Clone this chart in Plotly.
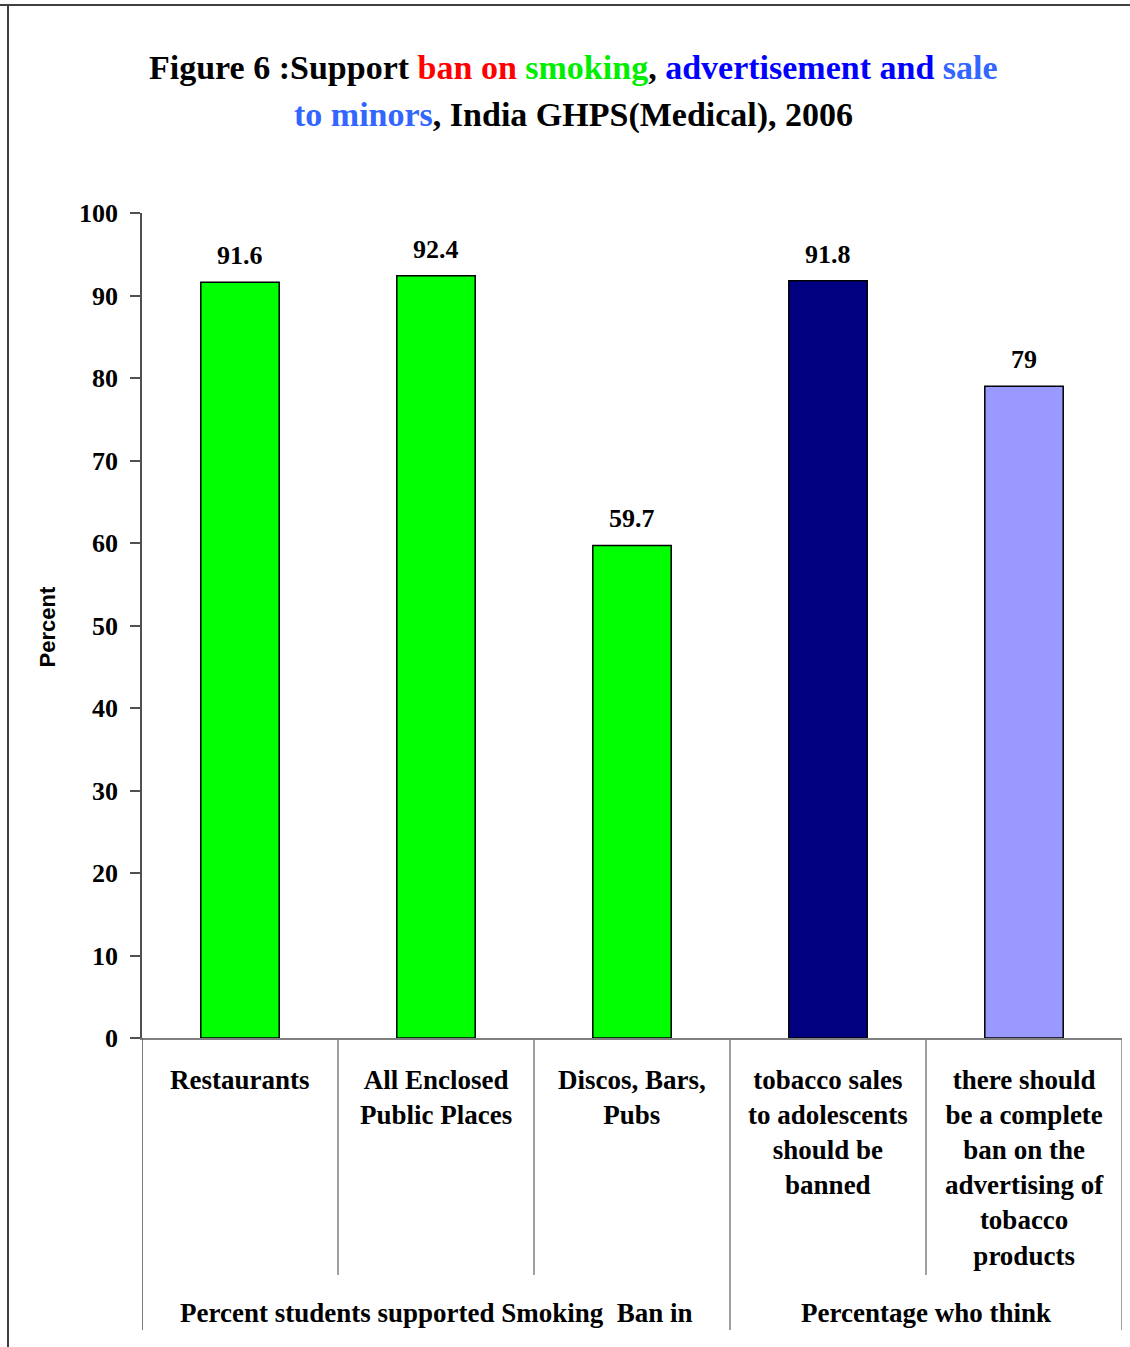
import plotly.graph_objects as go

categories = ["Restaurants", "All Enclosed<br>Public Places", "Discos, Bars,<br>Pubs",
              "tobacco sales<br>to adolescents<br>should be<br>banned",
              "there should<br>be a complete<br>ban on the<br>advertising of<br>tobacco<br>products"]
values = [91.6, 92.4, 59.7, 91.8, 79]
value_labels = ["91.6", "92.4", "59.7", "91.8", "79"]
bar_colors = ["#00FF00", "#00FF00", "#00FF00", "#000080", "#9999FF"]
groups = ["Percent students supported Smoking  Ban in", "Percentage who think"]
group_centers = [1, 3.5]
y_ticks = [0, 10, 20, 30, 40, 50, 60, 70, 80, 90, 100]

W, H = 1130, 1347
L, R, T, B = 142, 8, 213, 309
PW = W - L - R
PH = H - T - B

def py(p):
    return (H - B - p) / PH

def px(p):
    return (p - L) / PW

serif = "Liberation Serif, Times New Roman, serif"
xs = list(range(len(values)))

fig = go.Figure()
fig.add_trace(go.Bar(
    x=xs, y=values, width=0.4,
    marker=dict(color=bar_colors, line=dict(color="black", width=1.5)),
    hoverinfo="skip",
))

ann = []
for i, (v, t) in enumerate(zip(values, value_labels)):
    ann.append(dict(x=i, y=v, xref="x", yref="y", text="<b>%s</b>" % t, showarrow=False,
                    yanchor="bottom", yshift=10, font=dict(family=serif, size=26, color="black")))
for i, c in enumerate(categories):
    ann.append(dict(x=i, y=py(1063), xref="x", yref="paper", text="<b>%s</b>" % c, showarrow=False,
                    yanchor="top", align="center", font=dict(family=serif, size=27, color="black")))
for g, cx in zip(groups, group_centers):
    ann.append(dict(x=cx, y=py(1313), xref="x", yref="paper", text="<b>%s</b>" % g, showarrow=False,
                    yanchor="middle", font=dict(family=serif, size=27, color="black")))

title1 = ("<b>Figure 6 :Support <span style='color:#FF0000'>ban on</span> "
          "<span style='color:#00EE00'>smoking</span>, "
          "<span style='color:#0000FF'>advertisement and</span> "
          "<span style='color:#3366FF'>sale</span></b>")
title2 = ("<b><span style='color:#3366FF'>to minors</span>, India GHPS(Medical), 2006</b>")
ann.append(dict(x=px(573), y=py(68), xref="paper", yref="paper", text=title1, showarrow=False,
                yanchor="middle", font=dict(family=serif, size=34, color="black")))
ann.append(dict(x=px(573), y=py(115), xref="paper", yref="paper", text=title2, showarrow=False,
                yanchor="middle", font=dict(family=serif, size=34, color="black")))
ann.append(dict(x=px(32), y=py(627), xref="paper", yref="paper", text="<b>Percent</b>", showarrow=False,
                textangle=-90, font=dict(family="Liberation Sans, Arial, sans-serif", size=22, color="black")))

shapes = []
for xb in [-0.5, 0.5, 1.5, 2.5, 3.5, 4.5]:
    bottom = 1330 if xb in (-0.5, 2.5, 4.5) else 1275
    shapes.append(dict(type="line", xref="x", yref="paper", x0=xb, x1=xb, y0=py(1038), y1=py(bottom),
                       line=dict(color="#505050" if xb == -0.5 else "#808080", width=1.5)))
shapes.append(dict(type="line", xref="paper", yref="paper", x0=px(0), x1=px(W), y0=py(5), y1=py(5),
                   line=dict(color="#404040", width=2)))
shapes.append(dict(type="line", xref="paper", yref="paper", x0=px(8), x1=px(8), y0=py(5), y1=py(1347),
                   line=dict(color="#404040", width=2)))

fig.update_layout(
    width=W, height=H, margin=dict(l=L, r=R, t=T, b=B, autoexpand=False),
    paper_bgcolor="white", plot_bgcolor="white", showlegend=False,
    annotations=ann, shapes=shapes,
    xaxis=dict(range=[-0.5, 4.5], showticklabels=False, ticks="", showgrid=False,
               showline=True, linecolor="#808080", linewidth=1.5, zeroline=False, fixedrange=True),
    yaxis=dict(range=[0, 100], tickvals=y_ticks, ticktext=["<b>%d</b>" % t for t in y_ticks],
               ticks="outside", ticklen=10, tickcolor="#505050", tickwidth=1.5,
               ticklabelstandoff=7,
               showgrid=False, showline=True, linecolor="#505050", linewidth=1.5, zeroline=False,
               tickfont=dict(family=serif, size=26, color="black"), fixedrange=True),
)

fig.write_html("out.html")
